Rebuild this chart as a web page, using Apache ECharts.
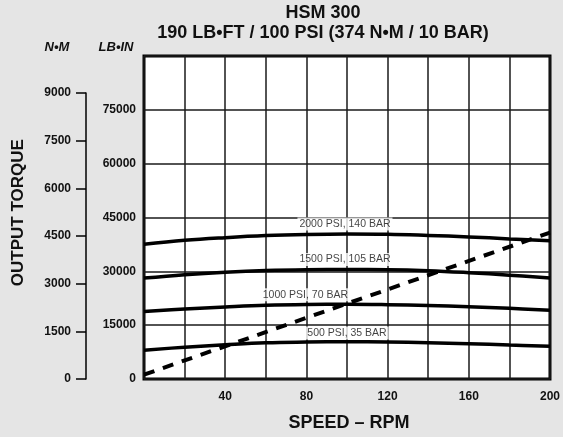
<!DOCTYPE html>
<html>
<head>
<meta charset="utf-8">
<script src="https://cdn.jsdelivr.net/npm/echarts@6/dist/echarts.min.js"></script>
<style>
  html, body { margin: 0; padding: 0; background: #e5e5e5; }
  #chart { width: 563px; height: 437px; }
</style>
</head>
<body>
<div id="chart"></div>
<script>
// speed in RPM, torque in LB-IN
var rpm = [0, 20, 40, 60, 80, 100, 120, 140, 160, 180, 200];
var psi2000 = [37520, 38630, 39380, 39960, 40290, 40430, 40340, 40010, 39600, 39040, 38490];
var psi1500 = [28110, 29070, 29770, 30240, 30460, 30510, 30460, 30180, 29630, 28940, 28160];
var psi1000 = [18830, 19520, 20080, 20550, 20770, 20820, 20710, 20490, 20130, 19690, 19190];
var psi500 = [8030, 8860, 9550, 10110, 10300, 10360, 10300, 10110, 9830, 9470, 9140];
var limitRpm = [0, 200];
var limitTorque = [1200, 40800];

var curveNames = ['2000 PSI, 140 BAR', '1500 PSI, 105 BAR', '1000 PSI, 70 BAR', '500 PSI, 35 BAR'];
// where each curve name sits (rpm, lb-in)
var nameRpm = [99, 99, 79.5, 100];
var nameTorque = [43200, 33310, 23450, 12790];

var lbinMax = 90000;
var nmPerLbin = 8.8507;
var nmTop = 9000;

var font = 'Liberation Sans, Arial, sans-serif';
var gTop = 56, gBottom = 58, gLeft = 144, gRight = 10;
var gH = 437 - gTop - gBottom;
var nmGridTop = gTop + gH * (1 - nmTop / (lbinMax / nmPerLbin));

var myChart = echarts.init(document.getElementById('chart'));

function pairs(ys) {
  return ys.map(function (v, i) { return [rpm[i], v]; });
}

var curveSeries = [psi2000, psi1500, psi1000, psi500].map(function (ys) {
  return {
    type: 'line',
    data: pairs(ys),
    smooth: 0.4,
    symbol: 'none',
    lineStyle: { color: '#000', width: 3.5 },
    z: 3
  };
});

var option = {
  backgroundColor: '#e5e5e5',
  animation: false,
  grid: [
    { left: gLeft, right: gRight, top: gTop, bottom: gBottom, show: true,
      backgroundColor: '#fff', borderColor: '#000', borderWidth: 3 },
    { left: 86, width: 1, top: nmGridTop, bottom: gBottom }
  ],
  xAxis: [
    {
      type: 'value', min: 0, max: 200, interval: 20,
      axisLine: { show: false }, axisTick: { show: false },
      splitLine: { lineStyle: { color: '#1a1a1a', width: 1.5 } },
      axisLabel: {
        margin: 12, color: '#111', fontFamily: font, fontWeight: 'bold', fontSize: 12,
        formatter: function (v) { return (v > 0 && v % 40 === 0) ? String(v) : ''; }
      }
    },
    { gridIndex: 1, type: 'value', min: 0, max: 1, show: false }
  ],
  yAxis: [
    {
      type: 'value', min: 0, max: lbinMax, interval: 15000,
      axisLine: { show: false }, axisTick: { show: false },
      splitLine: { lineStyle: { color: '#1a1a1a', width: 1.5 } },
      axisLabel: {
        margin: 8, color: '#111', fontFamily: font, fontWeight: 'bold', fontSize: 12,
        formatter: function (v) { return v >= lbinMax ? '' : String(v); }
      }
    },
    {
      gridIndex: 1, type: 'value', min: 0, max: nmTop, interval: 1500, position: 'left',
      axisLine: { show: true, lineStyle: { color: '#000', width: 1.5 } },
      axisTick: { show: true, length: 10, lineStyle: { color: '#000', width: 1.5 } },
      splitLine: { show: false },
      axisLabel: {
        margin: 15, color: '#111', fontFamily: font, fontWeight: 'bold', fontSize: 12,
        formatter: function (v) { return String(v); }
      }
    }
  ],
  series: curveSeries.concat([
    {
      type: 'line',
      data: limitRpm.map(function (r, i) { return [r, limitTorque[i]]; }),
      symbol: 'none',
      lineStyle: { color: '#000', width: 4, type: [11, 9] },
      z: 4
    },
    {
      type: 'scatter',
      symbolSize: 0,
      data: curveNames.map(function (n, i) { return [nameRpm[i], nameTorque[i], n]; }),
      label: {
        show: true, position: 'inside',
        formatter: function (p) { return p.data[2]; },
        color: '#111', fontFamily: font, fontSize: 10.5,
        backgroundColor: '#fff', padding: [1, 2]
      },
      z: 5
    }
  ]),
  graphic: [
    { type: 'text', x: 323, y: 13.5, style: { text: 'HSM 300', fill: '#111',
      font: 'bold 18px ' + font, textAlign: 'center', textVerticalAlign: 'middle' } },
    { type: 'text', x: 323, y: 33, style: { text: '190 LB\u2022FT / 100 PSI (374 N\u2022M / 10 BAR)', fill: '#111',
      font: 'bold 18px ' + font, textAlign: 'center', textVerticalAlign: 'middle' } },
    { type: 'text', x: 57, y: 47.5, style: { text: 'N\u2022M', fill: '#111',
      font: 'italic bold 13px ' + font, textAlign: 'center', textVerticalAlign: 'middle' } },
    { type: 'text', x: 116, y: 47.5, style: { text: 'LB\u2022IN', fill: '#111',
      font: 'italic bold 13px ' + font, textAlign: 'center', textVerticalAlign: 'middle' } },
    { type: 'text', x: 18.5, y: 212.7, rotation: Math.PI / 2, style: { text: 'OUTPUT TORQUE', fill: '#111',
      font: 'bold 17px ' + font, textAlign: 'center', textVerticalAlign: 'middle' } },
    { type: 'text', x: 349, y: 423.5, style: { text: 'SPEED \u2013 RPM', fill: '#111',
      font: 'bold 18px ' + font, textAlign: 'center', textVerticalAlign: 'middle' } }
  ]
};

myChart.setOption(option);
</script>
</body>
</html>
